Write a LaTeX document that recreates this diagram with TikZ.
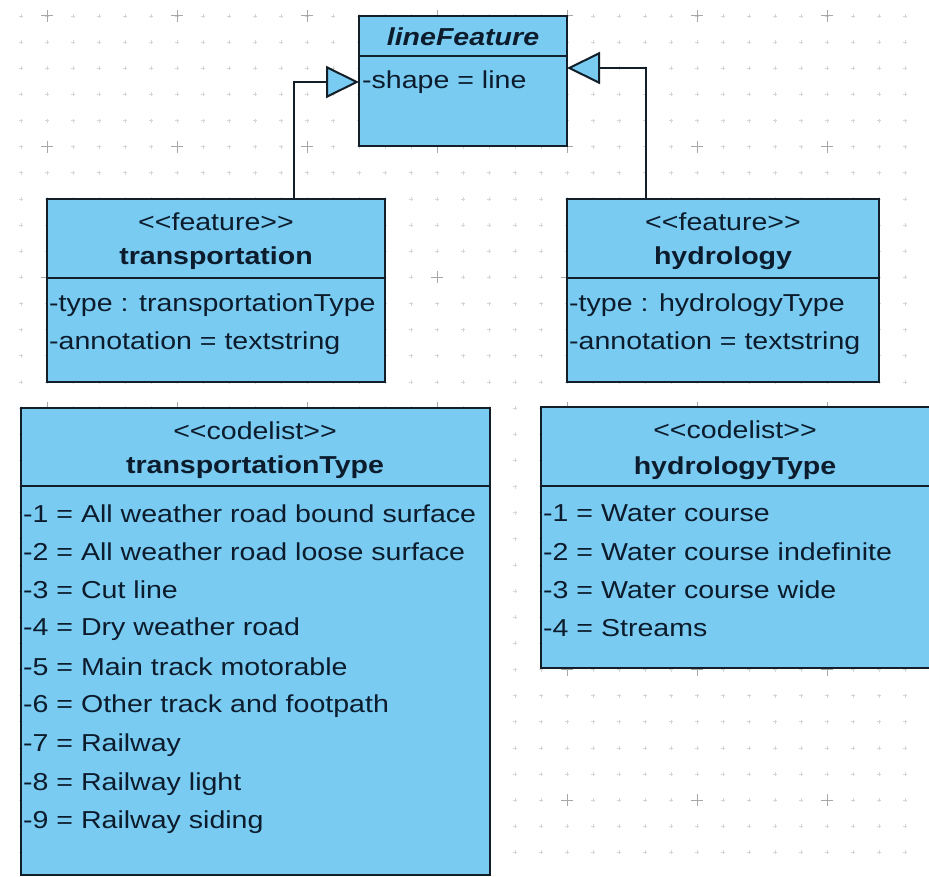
\documentclass[tikz,border=0pt]{standalone}
\usepackage{fontspec}
\setmainfont{Liberation Sans}[FakeStretch=1.165]
\usetikzlibrary{arrows.meta}
\definecolor{boxblue}{HTML}{79CBF2}
\definecolor{edge}{HTML}{121E28}
\definecolor{txt}{HTML}{0C1C2C}
\definecolor{gridminor}{HTML}{D6D6D6}
\definecolor{gridmajor}{HTML}{A8A8A8}
\tikzset{
  x=1pt, y=-1pt,
  umlbox/.style={draw=edge, fill=boxblue, line width=2pt, anchor=north west, inner sep=0pt, outer sep=0pt},
  divider/.style={draw=edge, line width=2pt},
  ttl/.style={text=txt, font=\fontsize{24.5}{28}\selectfont\bfseries, inner sep=0pt, anchor=center},
  stereo/.style={text=txt, font=\fontsize{24.5}{28}\selectfont, inner sep=0pt, anchor=center},
  attr/.style={text=txt, font=\fontsize{24.5}{28}\selectfont, inner sep=0pt, anchor=west},
  inh/.style={draw=edge, line width=2pt, -{Triangle[fill=boxblue, length=33pt, width=32pt, line width=2pt]}},
}
\begin{document}
\begin{tikzpicture}
\clip (0,0) rectangle (929,877);
\fill[white] (0,0) rectangle (929,877);
% grid
\foreach \i in {-1,...,34} {
  \foreach \j in {0,...,33} {
    \pgfmathsetmacro{\gx}{47+26*\i}
    \pgfmathsetmacro{\gy}{16+26.14*\j}
    \draw[gridminor, line width=0.8pt] (\gx-2,\gy) -- (\gx+2,\gy) (\gx,\gy-2) -- (\gx,\gy+2);
  }
}
\foreach \i in {0,...,6} {
  \foreach \j in {0,...,6} {
    \pgfmathsetmacro{\gx}{47+130*\i}
    \pgfmathsetmacro{\gy}{16+130.7*\j}
    \draw[gridmajor, line width=1pt] (\gx-6,\gy) -- (\gx+6,\gy) (\gx,\gy-6) -- (\gx,\gy+6);
  }
}

% lineFeature
\node[umlbox, minimum width=208pt, minimum height=130pt] (lf) at (359,16) {};
\draw[divider] (359,56) -- (567,56);
\node[ttl, font=\fontsize{24.5}{28}\selectfont\bfseries\itshape] (lft) at (463,37) {lineFeature};
\node[attr] (lfa) at (362,82) {-shape = line};

% transportation
\node[umlbox, minimum width=338pt, minimum height=183pt] (tr) at (47,199) {};
\draw[divider] (47,278) -- (385,278);
\node[stereo] (trs) at (216,222) {{<}{<}feature{>}{>}};
\node[ttl] (trt) at (216,258) {transportation};
\node[attr] (tra1) at (49,305) {-type : transportationType};
\node[attr] (tra2) at (49,343) {-annotation = textstring};

% hydrology
\node[umlbox, minimum width=312pt, minimum height=183pt] (hy) at (567,199) {};
\draw[divider] (567,278) -- (879,278);
\node[stereo] (hys) at (723,222) {{<}{<}feature{>}{>}};
\node[ttl] (hyt) at (723,258) {hydrology};
\node[attr] (hya1) at (569,305) {-type : hydrologyType};
\node[attr] (hya2) at (569,343) {-annotation = textstring};

% transportationType
\node[umlbox, minimum width=469pt, minimum height=467pt] (tt) at (21,408) {};
\draw[divider] (21,486) -- (490,486);
\node[stereo] (tts) at (255,431) {{<}{<}codelist{>}{>}};
\node[ttl] (ttt) at (255,467) {transportationType};
\node[attr] (tt1) at (23,514) {-1 = All weather road bound surface};
\node[attr] (tt2) at (23,552) {-2 = All weather road loose surface};
\node[attr] (tt3) at (23,590) {-3 = Cut line};
\node[attr] (tt4) at (23,629) {-4 = Dry weather road};
\node[attr] (tt5) at (23,667) {-5 = Main track motorable};
\node[attr] (tt6) at (23,706) {-6 = Other track and footpath};
\node[attr] (tt7) at (23,745) {-7 = Railway};
\node[attr] (tt8) at (23,784) {-8 = Railway light};
\node[attr] (tt9) at (23,822) {-9 = Railway siding};

% hydrologyType
\node[umlbox, minimum width=400pt, minimum height=261pt] (ht) at (541,407) {};
\draw[divider] (541,486) -- (941,486);
\node[stereo] (hts) at (735,430) {{<}{<}codelist{>}{>}};
\node[ttl] (htt) at (735,468) {hydrologyType};
\node[attr] (ht1) at (543,513) {-1 = Water course};
\node[attr] (ht2) at (543,552) {-2 = Water course indefinite};
\node[attr] (ht3) at (543,590) {-3 = Water course wide};
\node[attr] (ht4) at (543,628) {-4 = Streams};

% generalizations
\draw[inh] ([xshift=247pt]tr.north west) |- ([yshift=-66pt]lf.north west);
\draw[inh] ([xshift=79pt]hy.north west) |- ([yshift=-52pt]lf.north east);
\end{tikzpicture}
\end{document}
